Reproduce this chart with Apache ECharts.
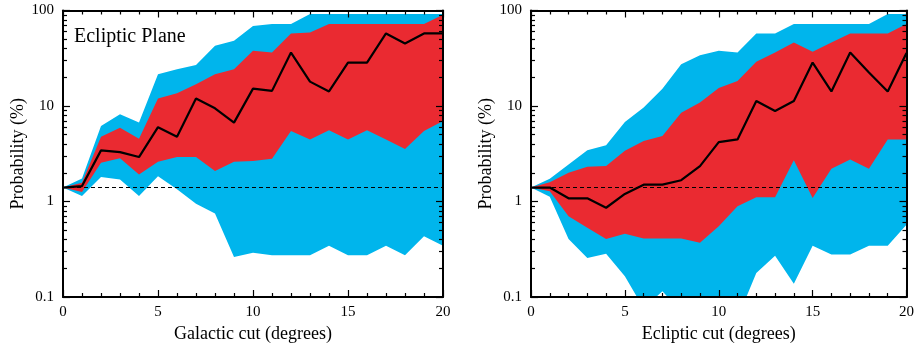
<!DOCTYPE html>
<html><head><meta charset="utf-8">
<script src="https://cdn.jsdelivr.net/npm/echarts@6/dist/echarts.min.js"></script>
<style>html,body{margin:0;padding:0;background:#fff}#c{width:917px;height:349px}</style>
</head><body><div id="c"></div>
<script>
const cuts = [0,1,2,3,4,5,6,7,8,9,10,11,12,13,14,15,16,17,18,19,20];
const baseline = 1.4;
const yTickValues = [0.1, 1, 10, 100];

// Left panel: Galactic cut
const galMedian    = [1.4,1.45,3.43,3.29,2.92,6.0,4.77,12.0,9.46,6.7,15.2,14.4,36.3,18.0,14.2,28.5,28.5,57.5,45.2,57.5,57.5];
const galRedUpper  = [1.4,1.57,4.77,5.93,4.55,12.0,13.6,16.9,21.5,24.3,37.8,36.3,57.5,58.9,72,72,72,72,72,72,90];
const galBlueUpper = [1.4,1.74,6.17,8.18,6.7,21.5,24.3,26.9,42.7,48.1,69,72,72,91.7,91.7,91.7,91.7,91.7,91.7,91.7,92];
const galRedLower  = [1.4,1.26,2.55,2.83,1.92,2.61,2.92,2.92,2.08,2.61,2.65,2.8,5.47,4.47,5.56,4.47,5.56,4.47,3.55,5.47,6.96];
const galBlueLower = [1.4,1.14,1.80,1.70,1.14,1.84,1.34,0.95,0.75,0.263,0.29,0.273,0.273,0.273,0.345,0.273,0.273,0.345,0.273,0.432,0.345];

// Right panel: Ecliptic cut
const eclMedian    = [1.4,1.4,1.08,1.08,0.86,1.2,1.5,1.5,1.67,2.35,4.19,4.47,11.3,8.86,11.3,28.5,14.2,36.3,22.4,14.2,35.8];
const eclRedUpper  = [1.4,1.59,2.0,2.31,2.35,3.4,4.3,4.84,8.52,10.9,15.4,18.3,29,36.3,46.3,36.9,46.3,57.5,57.5,57.5,72];
const eclBlueUpper = [1.4,1.73,2.44,3.45,3.87,6.8,9.62,15.2,27.4,34.0,37.8,36.3,57.5,57.5,72,72,72,72,72,91.7,91.7];
const eclRedLower  = [1.4,1.28,0.70,0.53,0.406,0.46,0.41,0.41,0.41,0.37,0.55,0.89,1.11,1.11,2.71,1.09,2.2,2.76,2.2,4.47,4.47];
const eclBlueLower = [1.4,1.12,0.406,0.256,0.283,0.165,0.076,0.115,0.07,0.06,0.06,0.06,0.178,0.271,0.138,0.345,0.278,0.278,0.345,0.345,0.57];

const BLUE = '#00b5ec';
const RED = '#ea2a31';
const FONT = 'Liberation Serif';

function pairs(arr){ return cuts.map((c,i)=>[c, arr[i]]); }

function areaSeries(idx, arr, color, z){
  return {
    type:'line', xAxisIndex: idx*2, yAxisIndex: idx*2, data: pairs(arr),
    symbol:'none', lineStyle:{width:0, color: color}, clip:true,
    areaStyle:{color: color, opacity:1, origin:'start'}, z: z, silent:true, animation:false
  };
}
function medianSeries(idx, arr){
  return {
    type:'line', xAxisIndex: idx*2, yAxisIndex: idx*2, data: pairs(arr),
    symbol:'none', lineStyle:{width:2.2, color:'#000'}, z: 6, silent:true, animation:false,
    markLine:{silent:true, symbol:['none','none'], label:{show:false}, z: 7, animation:false,
      lineStyle:{type:[4,3], width:1, color:'#000'}, data:[{yAxis: baseline}]}
  };
}

const grids = [
  {left:63, top:10.5, width:380, height:286.5},
  {left:531, top:10.5, width:381, height:286.5}
];
const xNames = ['Galactic cut (degrees)', 'Ecliptic cut (degrees)'];

const xAxes = [], yAxes = [];
grids.forEach((g, i) => {
  const common = {
    type:'value', min:0, max:20, interval:5, gridIndex:i, z:10,
    axisLine:{show:true, onZero:false, lineStyle:{color:'#000', width:2}},
    axisTick:{show:true, inside:true, length:7, lineStyle:{color:'#000', width:1.2}},
    minorTick:{show:true, splitNumber:5, length:4, lineStyle:{color:'#000', width:1.2}},
    splitLine:{show:false}
  };
  xAxes.push(Object.assign({}, common, {
    position:'bottom',
    axisLabel:{show:true, fontFamily:FONT, fontSize:15, color:'#000', margin:8},
    name:xNames[i], nameLocation:'middle', nameGap:26,
    nameTextStyle:{fontFamily:FONT, fontSize:18, color:'#000'}
  }));
  xAxes.push(Object.assign({}, common, {position:'top', axisLabel:{show:false}}));
  const ycommon = {
    type:'log', logBase:10, min:0.1, max:100, gridIndex:i, z:10,
    axisLine:{show:true, onZero:false, lineStyle:{color:'#000', width:2}},
    axisTick:{show:true, inside:true, length:7, lineStyle:{color:'#000', width:1.2}},
    minorTick:{show:true, splitNumber:9, length:4, lineStyle:{color:'#000', width:1.2}},
    splitLine:{show:false}
  };
  yAxes.push(Object.assign({}, ycommon, {
    position:'left',
    axisLabel:{show:true, fontFamily:FONT, fontSize:15, color:'#000', margin:9,
      formatter: v => { const t = yTickValues.find(u => Math.abs(u - v) < 1e-9 * Math.max(1,u)); return t === undefined ? '' : String(t); }},
    name:'Probability (%)', nameLocation:'middle', nameGap:35,
    nameTextStyle:{fontFamily:FONT, fontSize:18, color:'#000'}
  }));
  yAxes.push(Object.assign({}, ycommon, {position:'right', axisLabel:{show:false}}));
});

const series = [];
[[galBlueUpper, galRedUpper, galRedLower, galBlueLower, galMedian],
 [eclBlueUpper, eclRedUpper, eclRedLower, eclBlueLower, eclMedian]].forEach((d, i) => {
  series.push(areaSeries(i, d[0], BLUE, 2));
  series.push(areaSeries(i, d[1], RED, 3));
  series.push(areaSeries(i, d[2], BLUE, 4));
  series.push(areaSeries(i, d[3], '#ffffff', 5));
  series.push(medianSeries(i, d[4]));
});

const chart = echarts.init(document.getElementById('c'), null, {renderer:'canvas'});
chart.setOption({
  animation:false,
  backgroundColor:'#fff',
  title:{text:'Ecliptic Plane', left:69, top:22, textStyle:{fontFamily:FONT, fontSize:20, fontWeight:'normal', color:'#000'}},
  grid: grids,
  xAxis: xAxes,
  yAxis: yAxes,
  series: series
});
</script>
</body></html>
